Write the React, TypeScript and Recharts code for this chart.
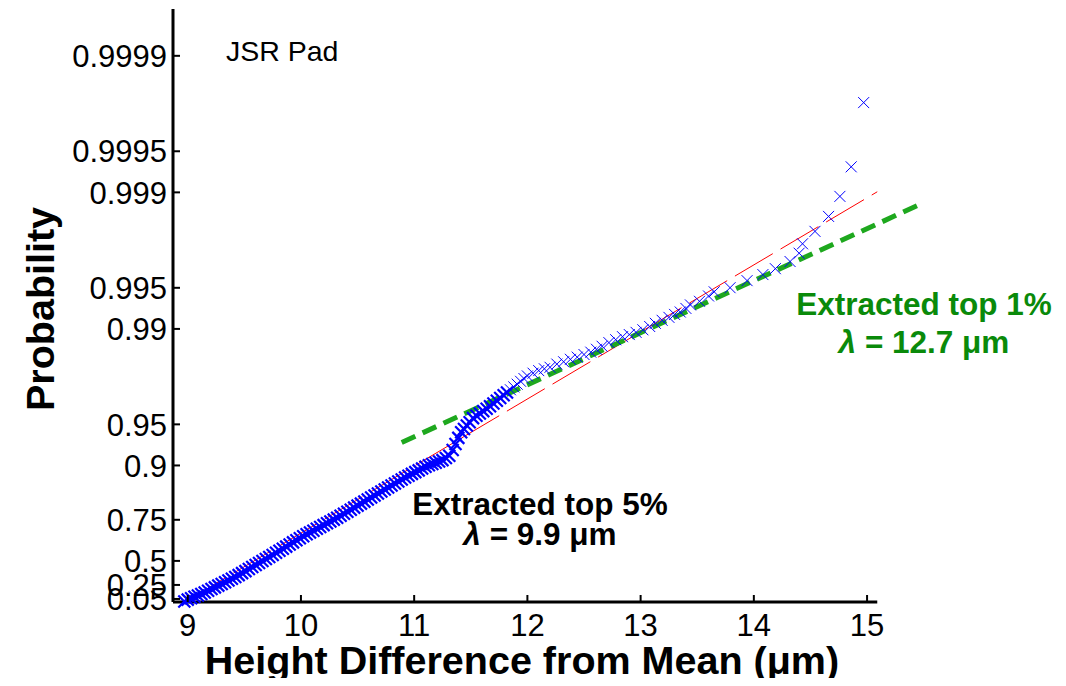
import React from "react";
import {
  ComposedChart,
  Scatter,
  Line,
  XAxis,
  YAxis,
  ReferenceLine,
  Customized,
} from "recharts";

const FONT = '"Liberation Sans", Arial, Helvetica, sans-serif';
const GREEN_TEXT = "#0a8a0a";
const GREEN_LINE = "#1ea81e";
const BLUE = "#0000ff";

// sorted height differences (µm) with their cumulative probabilities;
// the bulk is so dense that the markers merge into a solid band
const bulkHeights = [
  8.97, 9.0, 9.03, 9.06, 9.09, 9.12, 9.15, 9.18, 9.21, 9.24, 9.27, 9.3, 9.33,
  9.36, 9.39, 9.42, 9.45, 9.48, 9.51, 9.54, 9.57, 9.6, 9.63, 9.66, 9.69, 9.72,
  9.75, 9.78, 9.81, 9.84, 9.87, 9.9, 9.93, 9.96, 9.99, 10.02, 10.05, 10.08,
  10.11, 10.14, 10.17, 10.2, 10.23, 10.26, 10.29, 10.32, 10.35, 10.38, 10.41,
  10.44, 10.47, 10.5, 10.53, 10.56, 10.59, 10.62, 10.65, 10.68, 10.71, 10.74,
  10.77, 10.8, 10.83, 10.86, 10.89, 10.92, 10.95, 10.98, 11.01, 11.04, 11.07,
  11.1, 11.13, 11.16, 11.19, 11.22, 11.25, 11.28, 11.31, 11.34, 11.365, 11.39,
  11.415, 11.44, 11.465, 11.49, 11.52, 11.55, 11.58, 11.61, 11.64, 11.67, 11.7,
  11.73, 11.76, 11.79, 11.82,
];
const bulkProbs = [
  0.01, 0.0392, 0.062, 0.0833, 0.1051, 0.1254, 0.1479, 0.1722, 0.1959, 0.2189,
  0.2412, 0.2629, 0.284, 0.3037, 0.3236, 0.343, 0.3643, 0.3855, 0.4061, 0.4259,
  0.4451, 0.4637, 0.4816, 0.499, 0.5157, 0.5319, 0.5475, 0.5635, 0.5785, 0.593,
  0.607, 0.6205, 0.634, 0.6466, 0.6587, 0.6704, 0.6805, 0.6903, 0.6997, 0.7089,
  0.7178, 0.7264, 0.7347, 0.7428, 0.7507, 0.7583, 0.7664, 0.7742, 0.7817,
  0.789, 0.7963, 0.8031, 0.8097, 0.816, 0.8222, 0.8281, 0.8339, 0.8394, 0.8448,
  0.85, 0.855, 0.8598, 0.8645, 0.8691, 0.8734, 0.8775, 0.8812, 0.8847, 0.8881,
  0.8914, 0.8946, 0.8977, 0.9002, 0.9024, 0.9045, 0.9066, 0.9086, 0.9117,
  0.9152, 0.9229, 0.9304, 0.9372, 0.9428, 0.946, 0.949, 0.9518, 0.955, 0.9567,
  0.9584, 0.96, 0.9616, 0.9631, 0.9648, 0.9664, 0.9679, 0.9694, 0.9708,
];
const tailHeights = [
  11.85, 11.88, 11.91, 11.94, 11.97, 12.0, 12.05, 12.1, 12.15, 12.2, 12.26,
  12.32, 12.38, 12.44, 12.5, 12.56, 12.61, 12.66, 12.72, 12.78, 12.84, 12.9,
  12.96, 13.02, 13.08, 13.13, 13.19, 13.25, 13.3, 13.35, 13.4, 13.44, 13.52,
  13.6, 13.65, 13.79, 13.94, 14.08, 14.19, 14.32, 14.4, 14.43, 14.54, 14.66,
  14.76, 14.86, 14.97,
];
const tailProbs = [
  0.9721, 0.9734, 0.9746, 0.9758, 0.9769, 0.9779, 0.9789, 0.9798, 0.9804,
  0.9809, 0.9819, 0.9826, 0.9833, 0.9839, 0.9846, 0.9852, 0.9859, 0.9866,
  0.9874, 0.988, 0.9886, 0.989, 0.9894, 0.98985, 0.9904, 0.9909, 0.99135,
  0.99177, 0.99217, 0.99248, 0.99292, 0.99333, 0.99372, 0.99426, 0.99465,
  0.99501, 0.99557, 0.996, 0.99638, 0.99679, 0.99721, 0.99762, 0.99807,
  0.9985, 0.99893, 0.99935, 0.99978,
];

// fitted reference lines: top 5% (red) and top 1% (green)
const fit5Heights = [9.0, 15.09];
const fit5Probs = [0.0296, 0.99901];
const fit1Heights = [10.89, 15.48];
const fit1Probs = [0.9321, 0.99879];

const probTicks = [0.05, 0.25, 0.5, 0.75, 0.9, 0.95, 0.99, 0.995, 0.999, 0.9995, 0.9999];
const probLabels = ["0.05", "0.25", "0.5", "0.75", "0.9", "0.95", "0.99", "0.995", "0.999", "0.9995", "0.9999"];
const heightTicks = [9, 10, 11, 12, 13, 14, 15];

const X_MIN = 8.87;
const X_AXIS_END = 15.09;

// exponential probability paper
const reduced = (p: number) => -Math.log(1 - p);

const toPoints = (xs: number[], ps: number[]) =>
  xs.map((x, i) => ({ x, t: reduced(ps[i]) }));

const bulk = toPoints(bulkHeights, bulkProbs);
const tail = toPoints(tailHeights, tailProbs);
const fit5 = toPoints(fit5Heights, fit5Probs);
const fit1 = toPoints(fit1Heights, fit1Probs);
const yTickPos = probTicks.map(reduced);

const makeCross = (r: number, w: number) => (props: any) => {
  const { cx, cy } = props;
  return (
    <path
      d={`M${cx - r},${cy - r}L${cx + r},${cy + r}M${cx - r},${cy + r}L${cx + r},${cy - r}`}
      stroke={BLUE}
      strokeWidth={w}
      fill="none"
    />
  );
};
const BulkCross = makeCross(6, 2.2);
const Cross = makeCross(5.5, 1);

const YTick = (props: any) => {
  const { x, y, payload } = props;
  const i = yTickPos.findIndex((v) => Math.abs(v - payload.value) < 1e-6);
  return (
    <g>
      <line x1={x} x2={x + 7} y1={y} y2={y} stroke="#000" strokeWidth={2} />
      <text x={x - 6} y={y} dy="0.36em" textAnchor="end" fontSize={31} fontFamily={FONT} fill="#000">
        {probLabels[i]}
      </text>
    </g>
  );
};

const XTick = (props: any) => {
  const { x, y, payload } = props;
  return (
    <g>
      <line x1={x} x2={x} y1={y} y2={y - 7} stroke="#000" strokeWidth={2} />
      <text x={x} y={y + 34} textAnchor="middle" fontSize={31} fontFamily={FONT} fill="#000">
        {payload.value}
      </text>
    </g>
  );
};

const Notes = () => (
  <g fontFamily={FONT}>
    <text x={226} y={61} fontSize={28.5} fill="#000">JSR Pad</text>
    <text x={540} y={515} fontSize={31.5} fontWeight="bold" textAnchor="middle" fill="#000">
      Extracted top 5%
    </text>
    <text x={540} y={545} fontSize={31.5} fontWeight="bold" textAnchor="middle" fill="#000">
      <tspan fontStyle="italic">λ</tspan> = 9.9 μm
    </text>
    <text x={924} y={315} fontSize={31.5} fontWeight="bold" textAnchor="middle" fill={GREEN_TEXT}>
      Extracted top 1%
    </text>
    <text x={924} y={353} fontSize={31.5} fontWeight="bold" textAnchor="middle" fill={GREEN_TEXT}>
      <tspan fontStyle="italic">λ</tspan> = 12.7 μm
    </text>
    <text x={522} y={674} fontSize={39.5} fontWeight="bold" textAnchor="middle" fill="#000">
      Height Difference from Mean (μm)
    </text>
    <text transform="translate(54,309) rotate(-90)" fontSize={39.5} fontWeight="bold" textAnchor="middle" fill="#000">
      Probability
    </text>
  </g>
);

export default function App() {
  // pull the chart over the body margin so it fills the whole window
  return (
    <div style={{ margin: -8 }}>
      <ComposedChart
        width={1066}
        height={686}
        margin={{ top: 9, right: 131, bottom: 0, left: 0 }}
      >
        <XAxis
          type="number"
          dataKey="x"
          domain={[X_MIN, 15.6]}
          ticks={heightTicks}
          interval={0}
          tick={XTick}
          tickLine={false}
          axisLine={false}
          tickSize={0}
          tickMargin={0}
          height={84}
        />
        <YAxis
          type="number"
          dataKey="t"
          domain={[0, 10]}
          ticks={yTickPos}
          interval={0}
          tick={YTick}
          tickLine={false}
          axisLine={{ stroke: "#000", strokeWidth: 3 }}
          tickSize={0}
          tickMargin={0}
          width={173}
        />
        <ReferenceLine
          segment={[
            { x: X_MIN, y: 0 },
            { x: X_AXIS_END, y: 0 },
          ]}
          stroke="#000"
          strokeWidth={3}
        />
        <Line
          data={fit5}
          dataKey="t"
          type="linear"
          stroke="#ff0000"
          strokeWidth={1}
          strokeDasharray="44 9"
          dot={false}
          isAnimationActive={false}
        />
        <Scatter data={bulk} dataKey="t" shape={BulkCross} isAnimationActive={false} />
        <Scatter data={tail} dataKey="t" shape={Cross} isAnimationActive={false} />
        <Line
          data={fit1}
          dataKey="t"
          type="linear"
          stroke={GREEN_LINE}
          strokeWidth={5}
          strokeDasharray="15 8"
          dot={false}
          isAnimationActive={false}
        />
        <Customized component={Notes} />
      </ComposedChart>
    </div>
  );
}
